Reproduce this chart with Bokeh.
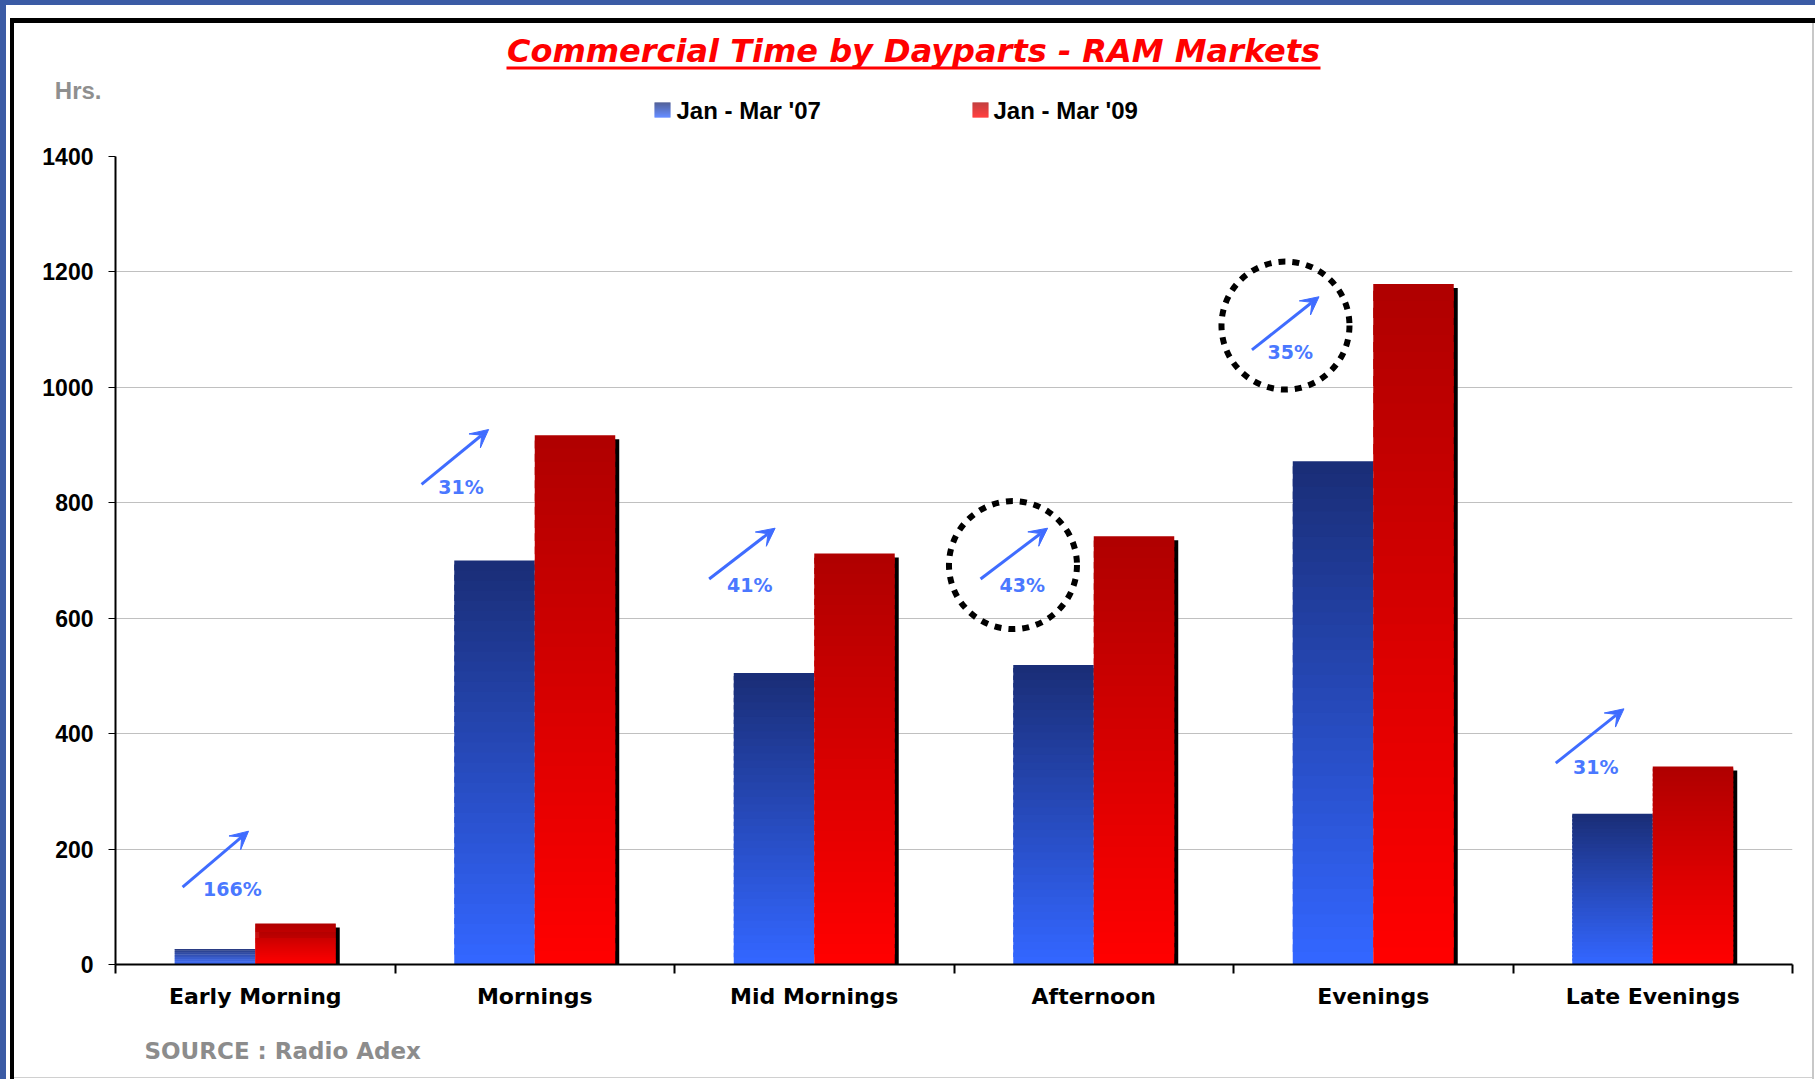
from bokeh.plotting import figure
from bokeh.layouts import column
from bokeh.models import Range1d, FixedTicker, Arrow, VeeHead, ColumnDataSource
from bokeh.core.properties import value
from bokeh.embed import file_html
from bokeh.resources import INLINE

# ---------------- data ----------------
categories = ["Early Morning", "Mornings", "Mid Mornings", "Afternoon", "Evenings", "Late Evenings"]
jan_mar_07 = [27, 700, 505, 519, 872, 261]
jan_mar_09 = [71, 917, 712, 742, 1179, 343]
growth_labels = ["166%", "31%", "41%", "43%", "35%", "31%"]
y_ticks = [0, 200, 400, 600, 800, 1000, 1200, 1400]
series_names = ["Jan - Mar '07", "Jan - Mar '09"]
title_text = "Commercial Time by Dayparts - RAM Markets"
unit_text = "Hrs."
source_text = "SOURCE : Radio Adex"

# ---------------- annotation layout ----------------
arrow_x0 = [-0.26, -0.405, -0.376, -0.405, -0.434, -0.347]
arrow_y0 = [134, 832, 668, 668, 1065, 349]
arrow_x1 = [-0.024, -0.165, -0.14, -0.165, -0.194, -0.103]
arrow_y1 = [231, 927, 756, 756, 1157, 443]
label_dx = [-0.082, -0.264, -0.231, -0.256, -0.297, -0.204]
label_y = [130, 828, 658, 658, 1061, 343]
circled = [3, 4]
circle_dx = [-0.289, -0.314]
circle_y = [692, 1107]

BAR_W = 0.288
N_SLICES = 40
BLUE_TOP, BLUE_BOT = (0x1a, 0x2e, 0x78), (0x33, 0x66, 0xff)
RED_TOP, RED_BOT = (0xb0, 0x00, 0x00), (0xff, 0x00, 0x00)
SLIDE_BLUE = "#3b5ba5"

W = 1815
HEAD_H, MAIN_H, FOOT_H = 128, 902, 49
FL, FR, FT, FB = 115, 1792, 156, 964   # plot frame in page pixels


def lerp(c1, c2, t):
    return "#%02x%02x%02x" % tuple(int(round(a + (b - a) * t)) for a, b in zip(c1, c2))


def gradient_slices(xc, vals, ctop, cbot):
    xs, bots, tops, cols = [], [], [], []
    for x, v in zip(xc, vals):
        for k in range(N_SLICES):
            xs.append(x)
            bots.append(v * k / N_SLICES)
            tops.append(min(v, v * (k + 1.6) / N_SLICES))
            cols.append(lerp(cbot, ctop, k / (N_SLICES - 1)))
    return ColumnDataSource(dict(x=xs, bottom=bots, top=tops, color=cols))


def css_bg(*layers):
    parts = [f"linear-gradient({c},{c}) {x}px {y}px / {w} {h} no-repeat" for c, x, y, w, h in layers]
    return ", ".join(parts + ["#ffffff"])


def pixel_fig(h, bg):
    f = figure(width=W, height=h, x_range=Range1d(FL, FR), y_range=Range1d(h, 0),
               x_axis_type=None, output_backend="svg", toolbar_location=None,
               min_border_left=FL, min_border_right=W - FR, min_border_top=0, min_border_bottom=0)
    f.outline_line_color = None
    f.background_fill_color = None
    f.border_fill_color = None
    f.grid.visible = False
    f.yaxis.visible = False
    f.styles = {"background": bg}
    return f


def rect(f, l, r, t, b, color):
    f.quad(left=[l], right=[r], top=[t], bottom=[b], fill_color=color, line_color=None)


def swatch(f, l, r, t, b, ctop, cbot, n=15):
    hgt = (b - t) / n
    f.quad(left=[l] * n, right=[r] * n, top=[t + k * hgt for k in range(n)],
           bottom=[t + (k + 1) * hgt for k in range(n)],
           fill_color=[lerp(ctop, cbot, k / (n - 1)) for k in range(n)], line_color=None)


def txt(f, x, y, s, font, size, color, style="bold", align="left"):
    f.text(x=[x], y=[y], text=[s], text_font=value(font), text_font_style=style,
           text_font_size=size, text_color=color, text_align=align, text_baseline="middle")


# ---------------- header: title, unit, legend ----------------
head = pixel_fig(HEAD_H, css_bg((SLIDE_BLUE, 0, 0, "100%", "5px"),
                                (SLIDE_BLUE, 0, 0, "6px", "100%"),
                                ("#000000", 10, 18, "100%", "5px"),
                                ("#000000", 10, 18, "4px", "100%"),
                                ("#c8c8c8", 1812, 18, "2px", "100%")))
txt(head, 913, 50, title_text, "DejaVu Sans", "32px", "#ff0000", style="bold italic", align="center")
rect(head, 506, 1320, 66, 69, "#ff0000")
swatch(head, 654, 670, 102, 117, BLUE_TOP, BLUE_BOT)
txt(head, 676, 110, series_names[0], "Liberation Sans", "24px", "black")
swatch(head, 972, 988, 102, 117, RED_TOP, RED_BOT)
txt(head, 993, 110, series_names[1], "Liberation Sans", "24px", "black")
# unit label sits left of the plot frame -> use the header's y-axis label slot
head.yaxis.visible = True
head.yaxis.ticker = FixedTicker(ticks=[90])
head.yaxis.major_label_overrides = {90: unit_text}
head.yaxis.axis_line_color = None
head.yaxis.major_tick_line_color = None
head.yaxis.minor_tick_line_color = None
head.yaxis.major_tick_out = 0
head.yaxis.major_tick_in = 0
head.yaxis.major_label_standoff = 14
head.yaxis.major_label_text_font = "Liberation Sans"
head.yaxis.major_label_text_font_style = "bold"
head.yaxis.major_label_text_font_size = "24px"
head.yaxis.major_label_text_color = "#8f8f8f"

# ---------------- main chart ----------------
pos = list(range(1, len(categories) + 1))
blue_x = [c - BAR_W / 2 for c in pos]
red_x = [c + BAR_W / 2 for c in pos]

p = figure(width=W, height=MAIN_H, x_range=Range1d(0.5, len(categories) + 0.5),
           y_range=Range1d(0, y_ticks[-1]), output_backend="svg", toolbar_location=None,
           min_border_left=FL, min_border_right=W - FR,
           min_border_top=FT - HEAD_H, min_border_bottom=HEAD_H + MAIN_H - FB)
p.outline_line_color = None
p.background_fill_color = "white"
p.border_fill_color = None
p.styles = {"background": css_bg((SLIDE_BLUE, 0, 0, "6px", "100%"),
                                 ("#000000", 10, 0, "4px", "100%"),
                                 ("#c8c8c8", 1812, 0, "2px", "100%"))}

p.xgrid.visible = False
p.ygrid.ticker = FixedTicker(ticks=y_ticks)
p.ygrid.grid_line_color = "#c0c0c0"
p.ygrid.grid_line_width = 1

p.yaxis.ticker = FixedTicker(ticks=y_ticks)
p.yaxis.axis_line_color = "black"
p.yaxis.axis_line_width = 2
p.yaxis.major_tick_out = 7
p.yaxis.major_tick_in = 0
p.yaxis.minor_tick_line_color = None
p.yaxis.major_label_standoff = 15
p.yaxis.major_label_text_font = "Liberation Sans"
p.yaxis.major_label_text_font_style = "bold"
p.yaxis.major_label_text_font_size = "23px"
p.yaxis.major_label_text_color = "black"

p.xaxis.ticker = FixedTicker(ticks=pos, minor_ticks=[c - 0.5 for c in pos] + [pos[-1] + 0.5])
p.xaxis.major_label_overrides = {c: name for c, name in zip(pos, categories)}
p.xaxis.axis_line_color = "black"
p.xaxis.axis_line_width = 2
p.xaxis.major_tick_out = 0
p.xaxis.major_tick_in = 0
p.xaxis.minor_tick_out = 9
p.xaxis.minor_tick_in = 0
p.xaxis.minor_tick_line_color = "black"
p.xaxis.minor_tick_line_width = 2
p.xaxis.major_label_standoff = 10
p.xaxis.major_label_text_font = "DejaVu Sans"
p.xaxis.major_label_text_font_style = "bold"
p.xaxis.major_label_text_font_size = "22px"
p.xaxis.major_label_text_color = "black"

shadow_src = ColumnDataSource(dict(x=[x + 0.0143 for x in red_x], top=[v - 7 for v in jan_mar_09]))
p.vbar(x="x", top="top", bottom=0, width=BAR_W, source=shadow_src, fill_color="black", line_color=None)
p.vbar(x="x", top="top", bottom="bottom", width=BAR_W,
       source=gradient_slices(blue_x, jan_mar_07, BLUE_TOP, BLUE_BOT), fill_color="color", line_color=None)
p.vbar(x="x", top="top", bottom="bottom", width=BAR_W,
       source=gradient_slices(red_x, jan_mar_09, RED_TOP, RED_BOT), fill_color="color", line_color=None)

ARROW_C = "#3f6cff"
arrow_src = ColumnDataSource(dict(
    xs=[c + d for c, d in zip(pos, arrow_x0)], ys=arrow_y0,
    xe=[c + d for c, d in zip(pos, arrow_x1)], ye=arrow_y1))
p.add_layout(Arrow(end=VeeHead(size=18, fill_color=ARROW_C, line_color=ARROW_C, line_width=1),
                   x_start="xs", y_start="ys", x_end="xe", y_end="ye", source=arrow_src,
                   line_color=ARROW_C, line_width=3))
p.text(x=[c + d for c, d in zip(pos, label_dx)], y=label_y, text=growth_labels,
       text_font=value("DejaVu Sans"), text_font_style="bold", text_font_size="19px",
       text_color="#4a78ff", text_align="center", text_baseline="middle")

p.scatter(x=[pos[i] + d for i, d in zip(circled, circle_dx)], y=circle_y, marker="circle",
          size=128, fill_color=None, line_color="black", line_width=6, line_dash="7 7")

# ---------------- footer: source ----------------
foot = pixel_fig(FOOT_H, css_bg((SLIDE_BLUE, 0, 0, "6px", "100%"),
                                ("#000000", 10, 0, "4px", "100%"),
                                ("#c8c8c8", 1812, 0, "2px", "100%"),
                                ("#d0d0d0", 14, 47, "1798px", "1px")))
txt(foot, 144, 1050 - (HEAD_H + MAIN_H), source_text, "DejaVu Sans", "23px", "#8c8c8c")

layout = column(head, p, foot, spacing=0)
open("out.html", "w").write(file_html(layout, INLINE))
